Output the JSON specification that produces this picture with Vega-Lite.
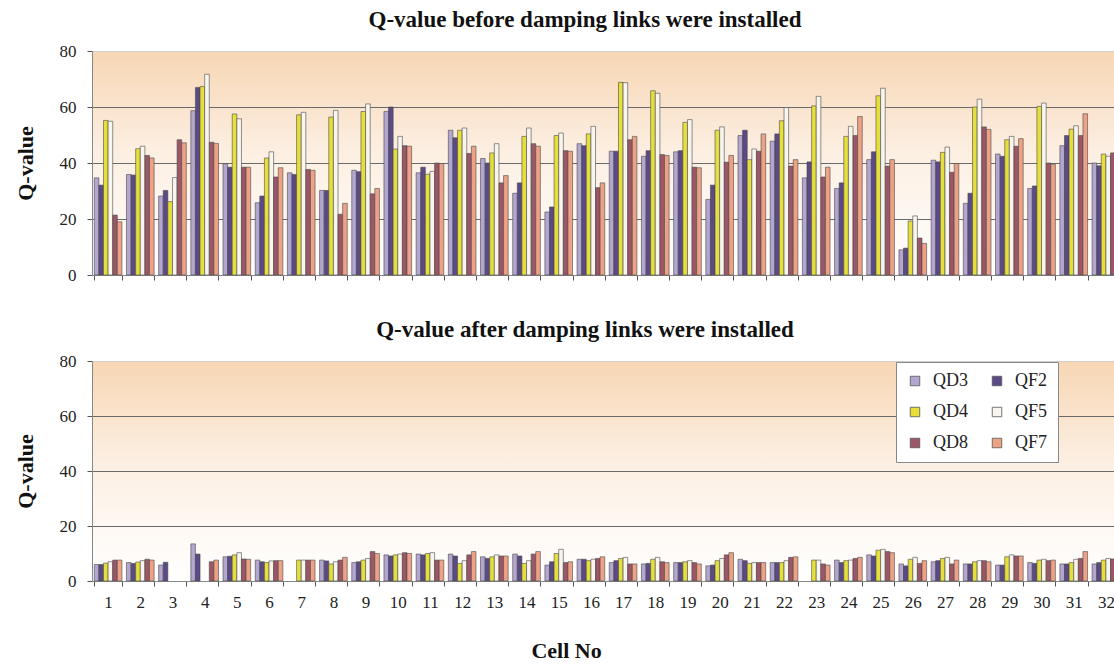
{
"$schema": "https://vega.github.io/schema/vega-lite/v6.json",
"background": "white",
"padding": {"left": 14, "top": 9, "right": 0, "bottom": 0},
"spacing": 36,
"datasets": {
"before": [
{"cell":1,"series":"QD3","q":34.7},{"cell":1,"series":"QF2","q":32.1},{"cell":1,"series":"QD4","q":55.2},{"cell":1,"series":"QF5","q":54.9},{"cell":1,"series":"QD8","q":21.4},{"cell":1,"series":"QF7","q":19.0},
{"cell":2,"series":"QD3","q":35.9},{"cell":2,"series":"QF2","q":35.7},{"cell":2,"series":"QD4","q":45.1},{"cell":2,"series":"QF5","q":46.0},{"cell":2,"series":"QD8","q":42.7},{"cell":2,"series":"QF7","q":41.8},
{"cell":3,"series":"QD3","q":28.2},{"cell":3,"series":"QF2","q":30.2},{"cell":3,"series":"QD4","q":26.2},{"cell":3,"series":"QF5","q":34.8},{"cell":3,"series":"QD8","q":48.3},{"cell":3,"series":"QF7","q":47.2},
{"cell":4,"series":"QD3","q":58.7},{"cell":4,"series":"QF2","q":67.0},{"cell":4,"series":"QD4","q":67.3},{"cell":4,"series":"QF5","q":71.7},{"cell":4,"series":"QD8","q":47.4},{"cell":4,"series":"QF7","q":47.0},
{"cell":5,"series":"QD3","q":39.7},{"cell":5,"series":"QF2","q":38.5},{"cell":5,"series":"QD4","q":57.5},{"cell":5,"series":"QF5","q":55.8},{"cell":5,"series":"QD8","q":38.5},{"cell":5,"series":"QF7","q":38.5},
{"cell":6,"series":"QD3","q":25.8},{"cell":6,"series":"QF2","q":28.2},{"cell":6,"series":"QD4","q":41.8},{"cell":6,"series":"QF5","q":44.0},{"cell":6,"series":"QD8","q":35.0},{"cell":6,"series":"QF7","q":38.3},
{"cell":7,"series":"QD3","q":36.5},{"cell":7,"series":"QF2","q":35.9},{"cell":7,"series":"QD4","q":57.2},{"cell":7,"series":"QF5","q":58.1},{"cell":7,"series":"QD8","q":37.7},{"cell":7,"series":"QF7","q":37.4},
{"cell":8,"series":"QD3","q":30.2},{"cell":8,"series":"QF2","q":30.2},{"cell":8,"series":"QD4","q":56.4},{"cell":8,"series":"QF5","q":58.8},{"cell":8,"series":"QD8","q":21.7},{"cell":8,"series":"QF7","q":25.6},
{"cell":9,"series":"QD3","q":37.4},{"cell":9,"series":"QF2","q":36.9},{"cell":9,"series":"QD4","q":58.4},{"cell":9,"series":"QF5","q":61.1},{"cell":9,"series":"QD8","q":29.0},{"cell":9,"series":"QF7","q":30.9},
{"cell":10,"series":"QD3","q":58.4},{"cell":10,"series":"QF2","q":60.0},{"cell":10,"series":"QD4","q":45.0},{"cell":10,"series":"QF5","q":49.5},{"cell":10,"series":"QD8","q":46.2},{"cell":10,"series":"QF7","q":46.0},
{"cell":11,"series":"QD3","q":36.5},{"cell":11,"series":"QF2","q":38.5},{"cell":11,"series":"QD4","q":36.0},{"cell":11,"series":"QF5","q":37.0},{"cell":11,"series":"QD8","q":40.0},{"cell":11,"series":"QF7","q":39.8},
{"cell":12,"series":"QD3","q":51.7},{"cell":12,"series":"QF2","q":49.0},{"cell":12,"series":"QD4","q":51.7},{"cell":12,"series":"QF5","q":52.5},{"cell":12,"series":"QD8","q":43.4},{"cell":12,"series":"QF7","q":46.0},
{"cell":13,"series":"QD3","q":41.6},{"cell":13,"series":"QF2","q":40.0},{"cell":13,"series":"QD4","q":43.6},{"cell":13,"series":"QF5","q":46.9},{"cell":13,"series":"QD8","q":32.9},{"cell":13,"series":"QF7","q":35.5},
{"cell":14,"series":"QD3","q":29.2},{"cell":14,"series":"QF2","q":32.9},{"cell":14,"series":"QD4","q":49.5},{"cell":14,"series":"QF5","q":52.5},{"cell":14,"series":"QD8","q":46.9},{"cell":14,"series":"QF7","q":46.0},
{"cell":15,"series":"QD3","q":22.5},{"cell":15,"series":"QF2","q":24.3},{"cell":15,"series":"QD4","q":49.8},{"cell":15,"series":"QF5","q":50.7},{"cell":15,"series":"QD8","q":44.4},{"cell":15,"series":"QF7","q":44.2},
{"cell":16,"series":"QD3","q":46.9},{"cell":16,"series":"QF2","q":46.2},{"cell":16,"series":"QD4","q":50.4},{"cell":16,"series":"QF5","q":53.1},{"cell":16,"series":"QD8","q":31.2},{"cell":16,"series":"QF7","q":32.9},
{"cell":17,"series":"QD3","q":44.2},{"cell":17,"series":"QF2","q":44.2},{"cell":17,"series":"QD4","q":68.8},{"cell":17,"series":"QF5","q":68.7},{"cell":17,"series":"QD8","q":48.3},{"cell":17,"series":"QF7","q":49.5},
{"cell":18,"series":"QD3","q":42.4},{"cell":18,"series":"QF2","q":44.4},{"cell":18,"series":"QD4","q":65.8},{"cell":18,"series":"QF5","q":64.9},{"cell":18,"series":"QD8","q":43.0},{"cell":18,"series":"QF7","q":42.7},
{"cell":19,"series":"QD3","q":44.0},{"cell":19,"series":"QF2","q":44.4},{"cell":19,"series":"QD4","q":54.5},{"cell":19,"series":"QF5","q":55.5},{"cell":19,"series":"QD8","q":38.5},{"cell":19,"series":"QF7","q":38.3},
{"cell":20,"series":"QD3","q":27.0},{"cell":20,"series":"QF2","q":32.1},{"cell":20,"series":"QD4","q":51.7},{"cell":20,"series":"QF5","q":52.9},{"cell":20,"series":"QD8","q":40.3},{"cell":20,"series":"QF7","q":42.7},
{"cell":21,"series":"QD3","q":49.8},{"cell":21,"series":"QF2","q":51.7},{"cell":21,"series":"QD4","q":41.2},{"cell":21,"series":"QF5","q":45.0},{"cell":21,"series":"QD8","q":44.2},{"cell":21,"series":"QF7","q":50.4},
{"cell":22,"series":"QD3","q":47.8},{"cell":22,"series":"QF2","q":50.4},{"cell":22,"series":"QD4","q":55.1},{"cell":22,"series":"QF5","q":59.8},{"cell":22,"series":"QD8","q":38.9},{"cell":22,"series":"QF7","q":41.2},
{"cell":23,"series":"QD3","q":34.7},{"cell":23,"series":"QF2","q":40.4},{"cell":23,"series":"QD4","q":60.4},{"cell":23,"series":"QF5","q":63.8},{"cell":23,"series":"QD8","q":35.0},{"cell":23,"series":"QF7","q":38.5},
{"cell":24,"series":"QD3","q":30.9},{"cell":24,"series":"QF2","q":32.9},{"cell":24,"series":"QD4","q":49.5},{"cell":24,"series":"QF5","q":53.1},{"cell":24,"series":"QD8","q":49.8},{"cell":24,"series":"QF7","q":56.6},
{"cell":25,"series":"QD3","q":41.2},{"cell":25,"series":"QF2","q":44.0},{"cell":25,"series":"QD4","q":64.0},{"cell":25,"series":"QF5","q":66.7},{"cell":25,"series":"QD8","q":38.9},{"cell":25,"series":"QF7","q":41.2},
{"cell":26,"series":"QD3","q":9.0},{"cell":26,"series":"QF2","q":9.6},{"cell":26,"series":"QD4","q":19.3},{"cell":26,"series":"QF5","q":21.1},{"cell":26,"series":"QD8","q":13.2},{"cell":26,"series":"QF7","q":11.3},
{"cell":27,"series":"QD3","q":41.0},{"cell":27,"series":"QF2","q":40.4},{"cell":27,"series":"QD4","q":43.8},{"cell":27,"series":"QF5","q":45.7},{"cell":27,"series":"QD8","q":36.7},{"cell":27,"series":"QF7","q":39.8},
{"cell":28,"series":"QD3","q":25.6},{"cell":28,"series":"QF2","q":29.2},{"cell":28,"series":"QD4","q":60.0},{"cell":28,"series":"QF5","q":62.8},{"cell":28,"series":"QD8","q":52.9},{"cell":28,"series":"QF7","q":52.0},
{"cell":29,"series":"QD3","q":43.2},{"cell":29,"series":"QF2","q":42.4},{"cell":29,"series":"QD4","q":48.3},{"cell":29,"series":"QF5","q":49.5},{"cell":29,"series":"QD8","q":46.0},{"cell":29,"series":"QF7","q":48.7},
{"cell":30,"series":"QD3","q":30.9},{"cell":30,"series":"QF2","q":31.8},{"cell":30,"series":"QD4","q":60.2},{"cell":30,"series":"QF5","q":61.4},{"cell":30,"series":"QD8","q":40.0},{"cell":30,"series":"QF7","q":39.5},
{"cell":31,"series":"QD3","q":46.2},{"cell":31,"series":"QF2","q":49.8},{"cell":31,"series":"QD4","q":52.1},{"cell":31,"series":"QF5","q":53.3},{"cell":31,"series":"QD8","q":49.8},{"cell":31,"series":"QF7","q":57.6},
{"cell":32,"series":"QD3","q":40.0},{"cell":32,"series":"QF2","q":39.0},{"cell":32,"series":"QD4","q":43.2},{"cell":32,"series":"QF5","q":42.4},{"cell":32,"series":"QD8","q":43.6},{"cell":32,"series":"QF7","q":42.0}
],
"after": [
{"cell":1,"series":"QD3","q":6.0},{"cell":1,"series":"QF2","q":6.0},{"cell":1,"series":"QD4","q":6.5},{"cell":1,"series":"QF5","q":7.0},{"cell":1,"series":"QD8","q":7.6},{"cell":1,"series":"QF7","q":7.6},
{"cell":2,"series":"QD3","q":6.7},{"cell":2,"series":"QF2","q":6.4},{"cell":2,"series":"QD4","q":6.9},{"cell":2,"series":"QF5","q":7.4},{"cell":2,"series":"QD8","q":7.9},{"cell":2,"series":"QF7","q":7.6},
{"cell":3,"series":"QD3","q":5.8},{"cell":3,"series":"QF2","q":6.8},
{"cell":4,"series":"QD3","q":13.5},{"cell":4,"series":"QF2","q":9.8},{"cell":4,"series":"QD8","q":7.0},{"cell":4,"series":"QF7","q":7.6},
{"cell":5,"series":"QD3","q":8.8},{"cell":5,"series":"QF2","q":9.0},{"cell":5,"series":"QD4","q":9.5},{"cell":5,"series":"QF5","q":10.3},{"cell":5,"series":"QD8","q":8.0},{"cell":5,"series":"QF7","q":7.9},
{"cell":6,"series":"QD3","q":7.6},{"cell":6,"series":"QF2","q":7.0},{"cell":6,"series":"QD4","q":6.7},{"cell":6,"series":"QF5","q":7.3},{"cell":6,"series":"QD8","q":7.4},{"cell":6,"series":"QF7","q":7.4},
{"cell":7,"series":"QD4","q":7.6},{"cell":7,"series":"QF5","q":7.6},{"cell":7,"series":"QD8","q":7.6},{"cell":7,"series":"QF7","q":7.6},
{"cell":8,"series":"QD3","q":7.6},{"cell":8,"series":"QF2","q":7.3},{"cell":8,"series":"QD4","q":6.2},{"cell":8,"series":"QF5","q":7.0},{"cell":8,"series":"QD8","q":7.6},{"cell":8,"series":"QF7","q":8.6},
{"cell":9,"series":"QD3","q":6.7},{"cell":9,"series":"QF2","q":7.0},{"cell":9,"series":"QD4","q":7.6},{"cell":9,"series":"QF5","q":8.2},{"cell":9,"series":"QD8","q":10.7},{"cell":9,"series":"QF7","q":10.0},
{"cell":10,"series":"QD3","q":9.5},{"cell":10,"series":"QF2","q":9.1},{"cell":10,"series":"QD4","q":9.5},{"cell":10,"series":"QF5","q":9.8},{"cell":10,"series":"QD8","q":10.3},{"cell":10,"series":"QF7","q":10.0},
{"cell":11,"series":"QD3","q":9.8},{"cell":11,"series":"QF2","q":9.5},{"cell":11,"series":"QD4","q":10.0},{"cell":11,"series":"QF5","q":10.3},{"cell":11,"series":"QD8","q":7.6},{"cell":11,"series":"QF7","q":7.6},
{"cell":12,"series":"QD3","q":9.8},{"cell":12,"series":"QF2","q":9.1},{"cell":12,"series":"QD4","q":6.4},{"cell":12,"series":"QF5","q":7.4},{"cell":12,"series":"QD8","q":9.5},{"cell":12,"series":"QF7","q":10.7},
{"cell":13,"series":"QD3","q":8.8},{"cell":13,"series":"QF2","q":8.2},{"cell":13,"series":"QD4","q":8.8},{"cell":13,"series":"QF5","q":9.5},{"cell":13,"series":"QD8","q":9.1},{"cell":13,"series":"QF7","q":9.1},
{"cell":14,"series":"QD3","q":9.8},{"cell":14,"series":"QF2","q":9.1},{"cell":14,"series":"QD4","q":6.4},{"cell":14,"series":"QF5","q":7.4},{"cell":14,"series":"QD8","q":9.8},{"cell":14,"series":"QF7","q":10.7},
{"cell":15,"series":"QD3","q":5.8},{"cell":15,"series":"QF2","q":7.0},{"cell":15,"series":"QD4","q":10.0},{"cell":15,"series":"QF5","q":11.5},{"cell":15,"series":"QD8","q":6.7},{"cell":15,"series":"QF7","q":7.0},
{"cell":16,"series":"QD3","q":7.9},{"cell":16,"series":"QF2","q":7.9},{"cell":16,"series":"QD4","q":7.4},{"cell":16,"series":"QF5","q":7.9},{"cell":16,"series":"QD8","q":8.2},{"cell":16,"series":"QF7","q":8.8},
{"cell":17,"series":"QD3","q":6.7},{"cell":17,"series":"QF2","q":7.4},{"cell":17,"series":"QD4","q":8.2},{"cell":17,"series":"QF5","q":8.6},{"cell":17,"series":"QD8","q":6.2},{"cell":17,"series":"QF7","q":6.2},
{"cell":18,"series":"QD3","q":6.2},{"cell":18,"series":"QF2","q":6.4},{"cell":18,"series":"QD4","q":7.9},{"cell":18,"series":"QF5","q":8.6},{"cell":18,"series":"QD8","q":7.0},{"cell":18,"series":"QF7","q":6.7},
{"cell":19,"series":"QD3","q":6.7},{"cell":19,"series":"QF2","q":6.7},{"cell":19,"series":"QD4","q":7.0},{"cell":19,"series":"QF5","q":7.4},{"cell":19,"series":"QD8","q":6.7},{"cell":19,"series":"QF7","q":6.2},
{"cell":20,"series":"QD3","q":5.5},{"cell":20,"series":"QF2","q":5.8},{"cell":20,"series":"QD4","q":7.4},{"cell":20,"series":"QF5","q":8.2},{"cell":20,"series":"QD8","q":9.5},{"cell":20,"series":"QF7","q":10.3},
{"cell":21,"series":"QD3","q":7.9},{"cell":21,"series":"QF2","q":7.4},{"cell":21,"series":"QD4","q":6.4},{"cell":21,"series":"QF5","q":6.7},{"cell":21,"series":"QD8","q":6.7},{"cell":21,"series":"QF7","q":6.7},
{"cell":22,"series":"QD3","q":6.7},{"cell":22,"series":"QF2","q":6.7},{"cell":22,"series":"QD4","q":6.7},{"cell":22,"series":"QF5","q":7.4},{"cell":22,"series":"QD8","q":8.6},{"cell":22,"series":"QF7","q":8.8},
{"cell":23,"series":"QD4","q":7.6},{"cell":23,"series":"QF5","q":7.6},{"cell":23,"series":"QD8","q":6.2},{"cell":23,"series":"QF7","q":5.8},
{"cell":24,"series":"QD3","q":7.6},{"cell":24,"series":"QF2","q":6.7},{"cell":24,"series":"QD4","q":7.4},{"cell":24,"series":"QF5","q":7.6},{"cell":24,"series":"QD8","q":8.2},{"cell":24,"series":"QF7","q":8.6},
{"cell":25,"series":"QD3","q":9.5},{"cell":25,"series":"QF2","q":9.1},{"cell":25,"series":"QD4","q":11.2},{"cell":25,"series":"QF5","q":11.5},{"cell":25,"series":"QD8","q":10.7},{"cell":25,"series":"QF7","q":10.3},
{"cell":26,"series":"QD3","q":6.2},{"cell":26,"series":"QF2","q":5.5},{"cell":26,"series":"QD4","q":7.9},{"cell":26,"series":"QF5","q":8.6},{"cell":26,"series":"QD8","q":6.4},{"cell":26,"series":"QF7","q":7.4},
{"cell":27,"series":"QD3","q":7.0},{"cell":27,"series":"QF2","q":7.4},{"cell":27,"series":"QD4","q":8.2},{"cell":27,"series":"QF5","q":8.6},{"cell":27,"series":"QD8","q":6.2},{"cell":27,"series":"QF7","q":7.6},
{"cell":28,"series":"QD3","q":6.2},{"cell":28,"series":"QF2","q":6.2},{"cell":28,"series":"QD4","q":7.0},{"cell":28,"series":"QF5","q":7.4},{"cell":28,"series":"QD8","q":7.4},{"cell":28,"series":"QF7","q":7.0},
{"cell":29,"series":"QD3","q":5.8},{"cell":29,"series":"QF2","q":5.8},{"cell":29,"series":"QD4","q":8.8},{"cell":29,"series":"QF5","q":9.5},{"cell":29,"series":"QD8","q":9.1},{"cell":29,"series":"QF7","q":9.1},
{"cell":30,"series":"QD3","q":6.7},{"cell":30,"series":"QF2","q":6.4},{"cell":30,"series":"QD4","q":7.6},{"cell":30,"series":"QF5","q":7.9},{"cell":30,"series":"QD8","q":7.4},{"cell":30,"series":"QF7","q":7.6},
{"cell":31,"series":"QD3","q":6.2},{"cell":31,"series":"QF2","q":6.2},{"cell":31,"series":"QD4","q":6.7},{"cell":31,"series":"QF5","q":7.9},{"cell":31,"series":"QD8","q":8.2},{"cell":31,"series":"QF7","q":10.7},
{"cell":32,"series":"QD3","q":6.2},{"cell":32,"series":"QF2","q":6.7},{"cell":32,"series":"QD4","q":7.6},{"cell":32,"series":"QF5","q":8.2},{"cell":32,"series":"QD8","q":8.0},{"cell":32,"series":"QF7","q":8.0}
]
},
"config": {
  "font": "Liberation Serif",
  "view": {"stroke": null, "fill": {"gradient": "linear", "x1": 0, "y1": 0, "x2": 0, "y2": 1, "stops": [{"offset": 0, "color": "#f7d6b4"}, {"offset": 0.45, "color": "#fcefe2"}, {"offset": 1, "color": "#ffffff"}]}},
  "axis": {"labelFont": "Liberation Serif", "labelFontSize": 17, "labelColor": "#222", "titleFont": "Liberation Serif", "titleFontSize": 22, "titleFontWeight": "bold", "titleColor": "#111", "domainColor": "#888", "tickColor": "#555", "tickSize": 5},
  "title": {"font": "Liberation Serif", "fontSize": 23, "fontWeight": "bold", "color": "#111", "offset": 10},
  "legend": {"labelFont": "Liberation Serif"}
},
"resolve": {"legend": {"color": "independent"}},
"vconcat": [
  {
    "width": 1030, "height": 224,
    "title": {"text": "Q-value before damping links were installed", "dx": -22},
    "data": {"name": "before"},
    "mark": {"type": "bar", "stroke": "#4a4a4a", "strokeWidth": 0.6},
    "encoding": {
      "x": {"field": "cell", "type": "ordinal", "scale": {"paddingInner": 0.14, "paddingOuter": 0.07}, "axis": {"labels": false, "title": null, "tickBand": "extent", "labelAngle": 0}},
      "xOffset": {"field": "series", "type": "nominal", "sort": ["QD3","QF2","QD4","QF5","QD8","QF7"], "scale": {"paddingInner": 0, "paddingOuter": 0}},
      "y": {"field": "q", "type": "quantitative", "scale": {"domain": [0, 80]}, "axis": {"values": [0,20,40,60,80], "title": "Q-value", "labelPadding": 11, "titlePadding": 22, "gridColor": {"condition": {"test": "datum.value === 80", "value": "#cfcfcf"}, "value": "#6a6a6a"}, "gridWidth": 1}},
      "color": {"field": "series", "type": "nominal", "scale": {"domain": ["QD3","QD4","QD8","QF2","QF5","QF7"], "range": ["#b3a6cf","#e6df3a","#9c5666","#5b4a86","#f7f5ee","#eea285"]}, "legend": null}
    }
  },
  {
    "width": 1030, "height": 220,
    "title": {"text": "Q-value after damping links were installed", "dx": -22},
    "data": {"name": "after"},
    "mark": {"type": "bar", "stroke": "#4a4a4a", "strokeWidth": 0.6},
    "encoding": {
      "x": {"field": "cell", "type": "ordinal", "scale": {"paddingInner": 0.14, "paddingOuter": 0.07}, "axis": {"title": "Cell No", "tickBand": "extent", "labelAngle": 0, "labelPadding": 8, "titlePadding": 30, "titleX": 474}},
      "xOffset": {"field": "series", "type": "nominal", "sort": ["QD3","QF2","QD4","QF5","QD8","QF7"], "scale": {"paddingInner": 0, "paddingOuter": 0}},
      "y": {"field": "q", "type": "quantitative", "scale": {"domain": [0, 80]}, "axis": {"values": [0,20,40,60,80], "title": "Q-value", "labelPadding": 11, "titlePadding": 22, "gridColor": {"condition": {"test": "datum.value === 80", "value": "#cfcfcf"}, "value": "#6a6a6a"}, "gridWidth": 1}},
      "color": {"field": "series", "type": "nominal", "scale": {"domain": ["QD3","QD4","QD8","QF2","QF5","QF7"], "range": ["#b3a6cf","#e6df3a","#9c5666","#5b4a86","#f7f5ee","#eea285"]},
        "legend": {"title": null, "orient": "none", "legendX": 804, "legendY": 1, "columns": 2, "columnPadding": 20, "rowPadding": 13, "padding": 10, "fillColor": "white", "strokeColor": "#888", "labelFontSize": 18, "labelColor": "#222", "symbolType": "square", "symbolSize": 90, "symbolStrokeColor": "#555", "symbolStrokeWidth": 0.8, "labelOffset": 9}}
    }
  }
]
}
